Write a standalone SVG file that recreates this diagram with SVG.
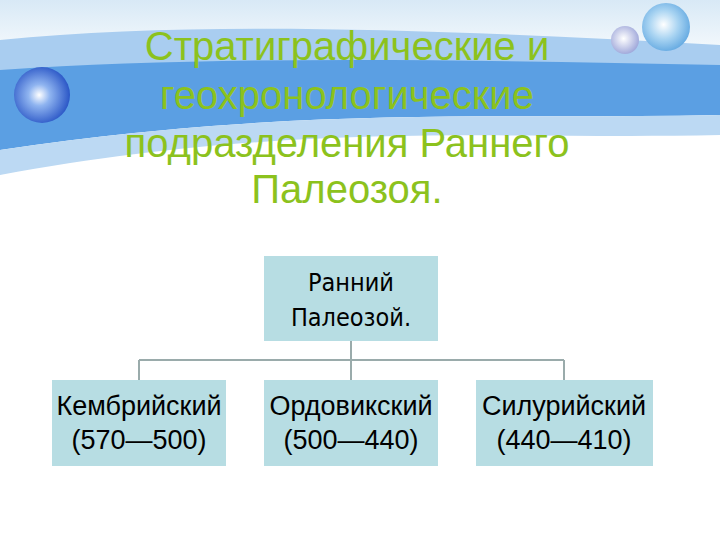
<svg xmlns="http://www.w3.org/2000/svg" width="720" height="540" viewBox="0 0 720 540">
<defs>
<radialGradient id="bub" cx="0.45" cy="0.5" r="0.55"><stop offset="0" stop-color="#ffffff"/><stop offset="0.35" stop-color="#8fb4f0"/><stop offset="1" stop-color="#2a56c6"/></radialGradient>
<radialGradient id="bub2" cx="0.45" cy="0.45" r="0.6"><stop offset="0" stop-color="#ffffff"/><stop offset="0.5" stop-color="#a9d4f2"/><stop offset="1" stop-color="#5fa6e0"/></radialGradient>
<radialGradient id="bub3" cx="0.45" cy="0.45" r="0.6"><stop offset="0" stop-color="#ffffff"/><stop offset="1" stop-color="#9aa3d8"/></radialGradient>
<linearGradient id="sky" x1="0" y1="0" x2="0" y2="1"><stop offset="0" stop-color="#d8e9f6"/><stop offset="1" stop-color="#ffffff"/></linearGradient>
<style>
.box{fill:#b7dde3}
.t{font-family:"Liberation Sans",Arial,sans-serif;font-size:27px;fill:#000;text-anchor:middle}
.h{font-family:"DejaVu Sans Condensed","DejaVu Sans",sans-serif;font-size:25px;fill:#000;text-anchor:middle}
.title{font-family:"Liberation Sans",Arial,sans-serif;font-size:40px;fill:#8cc21d;text-anchor:middle}
</style>
</defs>
<rect width="720" height="540" fill="#fff"/>
<rect width="720" height="70" fill="url(#sky)"/>
<path d="M0 40 C200 20 450 30 720 45 L720 80 C450 70 200 50 0 95 Z" fill="#a9cdf0"/>
<path d="M0 70 C220 55 480 60 720 65 L720 115 C500 120 300 105 0 150 Z" fill="#5b9fe3"/>
<path d="M0 150 C300 105 500 120 720 115 L720 135 C500 140 300 120 0 175 Z" fill="#bcd9f3"/>
<circle cx="42" cy="95" r="28" fill="url(#bub)"/>
<circle cx="666" cy="27" r="24" fill="url(#bub2)"/>
<circle cx="625" cy="40" r="14" fill="url(#bub3)"/>
<g id="title">
<text class="title" x="347" y="60">Стратиграфические и</text>
<text class="title" x="347" y="109">геохронологические</text>
<text class="title" x="347" y="157">подразделения Раннего</text>
<text class="title" x="347" y="203">Палеозоя.</text>
</g>
<g id="connectors" stroke="#9aabab" stroke-width="2" fill="none">
<path d="M351 341 V380 M139 360 H564 M139 360 V380 M564 360 V380"/>
</g>
<g id="root"><rect class="box" x="264" y="256" width="174" height="85"/>
<text class="h" x="351" y="291">Ранний</text><text class="h" x="351" y="326">Палеозой.</text></g>
<g id="n1"><rect class="box" x="52" y="380" width="174" height="86"/>
<text class="t" x="139" y="415">Кембрийский</text><text class="t" x="139" y="449">(570—500)</text></g>
<g id="n2"><rect class="box" x="264" y="380" width="174" height="86"/>
<text class="t" x="351" y="415">Ордовикский</text><text class="t" x="351" y="449">(500—440)</text></g>
<g id="n3"><rect class="box" x="476" y="380" width="177" height="86"/>
<text class="t" x="564" y="415">Силурийский</text><text class="t" x="564" y="449">(440—410)</text></g>
</svg>
